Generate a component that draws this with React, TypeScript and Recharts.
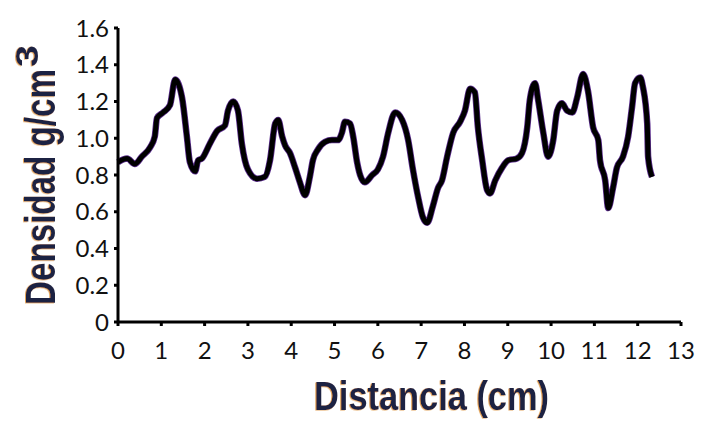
import React from "react";
import { CartesianGrid, Label, Line, LineChart, XAxis, YAxis } from "recharts";

// readings
const distanceCm = [
  0.0, 0.21, 0.39, 0.55, 0.74, 0.85, 0.9, 1.04, 1.2, 1.32, 1.48, 1.59, 1.66, 1.78, 1.85,
  1.94, 2.12, 2.29, 2.47, 2.54, 2.66, 2.77, 2.86, 3.0, 3.21, 3.39, 3.51, 3.63, 3.7, 3.79,
  3.86, 3.97, 4.09, 4.2, 4.32, 4.43, 4.5, 4.62, 4.78, 4.94, 5.08, 5.17, 5.24, 5.36, 5.43,
  5.52, 5.59, 5.7, 5.87, 6.0, 6.12, 6.24, 6.4, 6.56, 6.7, 6.81, 6.93, 7.04, 7.14, 7.27,
  7.39, 7.48, 7.6, 7.74, 7.9, 8.01, 8.13, 8.24, 8.31, 8.41, 8.52, 8.59, 8.71, 8.87, 9.01,
  9.21, 9.33, 9.45, 9.51, 9.63, 9.7, 9.82, 9.93, 10.05, 10.14, 10.25, 10.37, 10.49, 10.6,
  10.74, 10.85, 10.97, 11.09, 11.13, 11.25, 11.32, 11.43, 11.52, 11.66, 11.78, 11.87,
  11.94, 12.06, 12.12, 12.22, 12.24, 12.33,
];
const density = [
  0.87, 0.89, 0.86, 0.9, 0.95, 1.01, 1.11, 1.14, 1.18, 1.32, 1.22, 1.01, 0.87, 0.82, 0.88,
  0.89, 0.97, 1.04, 1.07, 1.15, 1.2, 1.15, 0.97, 0.83, 0.78, 0.79, 0.88, 1.08, 1.1, 1.01,
  0.96, 0.92, 0.84, 0.76, 0.69, 0.79, 0.88, 0.94, 0.98, 0.99, 0.99, 1.03, 1.09, 1.08, 1.01,
  0.87, 0.8, 0.76, 0.8, 0.83, 0.9, 1.03, 1.14, 1.1, 0.99, 0.83, 0.68, 0.57, 0.54, 0.63,
  0.73, 0.77, 0.9, 1.03, 1.09, 1.15, 1.27, 1.25, 1.06, 0.88, 0.72, 0.7, 0.77, 0.84, 0.88,
  0.89, 0.92, 1.06, 1.21, 1.3, 1.21, 1.03, 0.9, 0.99, 1.15, 1.19, 1.15, 1.14, 1.22,
  1.35, 1.26, 1.06, 0.99, 0.88, 0.77, 0.62, 0.73, 0.84, 0.9, 1.01, 1.17,
  1.3, 1.33, 1.28, 1.08, 0.9, 0.79,
];

const xTicks = [0, 1, 2, 3, 4, 5, 6, 7, 8, 9, 10, 11, 12, 13];
const yTicks = [0, 0.2, 0.4, 0.6, 0.8, 1.0, 1.2, 1.4, 1.6];

const data = distanceCm.map((d, i) => ({ d, rho: density[i] }));

const tickFont = { fill: "#111", fontSize: 24, fontFamily: "Lato" };
const titleFont = "'Liberation Sans', Arial, sans-serif";
const titleColor = "#1d2242";

function XTitle(props: any) {
  const { viewBox } = props;
  const cx = viewBox.x + viewBox.width / 2;
  return (
    <text
      x={cx + 32}
      y={viewBox.y + 88}
      textAnchor="middle"
      fontFamily={titleFont}
      fontWeight="bold"
      fontSize={40}
      textLength={235}
      lengthAdjust="spacingAndGlyphs"
      fill={titleColor}
      filter="url(#fringe)"
    >
      Distancia (cm)
    </text>
  );
}

function YTitle() {
  const x = 55;
  const y = 305;
  return (
    <g filter="url(#fringe)">
      <text
        x={x}
        y={y}
        transform={`rotate(-90, ${x}, ${y})`}
        textAnchor="start"
        fontFamily={titleFont}
        fontWeight="bold"
        fontSize={42}
        textLength={236}
        lengthAdjust="spacingAndGlyphs"
        fill={titleColor}
      >
        Densidad g/cm
      </text>
      <text
        x={38}
        y={67}
        transform="rotate(-90, 38, 67)"
        textAnchor="start"
        fontFamily={titleFont}
        fontWeight="bold"
        fontSize={32}
        textLength={22}
        lengthAdjust="spacingAndGlyphs"
        fill={titleColor}
      >
        3
      </text>
    </g>
  );
}

export default function App() {
  return (
    <div style={{ position: "absolute", left: 0, top: 0, background: "#fff" }}>
      <LineChart
        width={702}
        height={430}
        data={data}
        margin={{ top: 28, right: 21, bottom: 78, left: 0 }}
      >
        <defs>
          <filter id="fringe" x="-5%" y="-5%" width="110%" height="110%">
            <feDropShadow dx={-1} dy={0.5} stdDeviation={0.6} floodColor="#d98a2b" floodOpacity={0.8} />
          </filter>
        </defs>
        <CartesianGrid stroke="none" />
        <XAxis
          type="number"
          dataKey="d"
          domain={[0, 13]}
          ticks={xTicks}
          interval={0}
          height={30}
          stroke="#000"
          strokeWidth={3}
          tickSize={4}
          tickMargin={16}
          tick={tickFont}
        >
          <Label content={<XTitle />} />
        </XAxis>
        <YAxis
          type="number"
          domain={[0, 1.6]}
          ticks={yTicks}
          interval={0}
          width={118}
          stroke="#000"
          strokeWidth={3}
          tickSize={4}
          tickMargin={5}
          tick={tickFont}
          tickFormatter={(v: number) => (v === 0 ? "0" : v.toFixed(1))}
        >
          <Label content={<YTitle />} />
        </YAxis>
        <Line
          type="monotone"
          dataKey="rho"
          stroke="#5b2d8e"
          strokeWidth={6.5}
          dot={false}
          activeDot={false}
          isAnimationActive={false}
        />
        <Line
          type="monotone"
          dataKey="rho"
          stroke="#000"
          strokeWidth={5}
          dot={false}
          activeDot={false}
          isAnimationActive={false}
        />
      </LineChart>
    </div>
  );
}
